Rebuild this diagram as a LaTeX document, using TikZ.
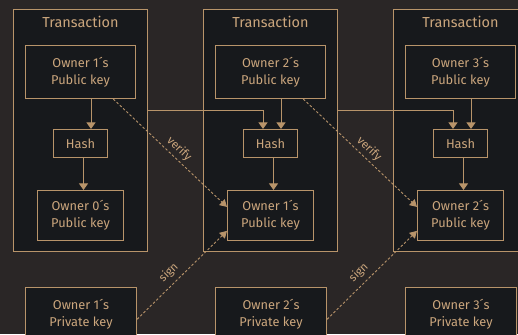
\documentclass[tikz,border=0pt]{standalone}
\usepackage{fontspec}
\setmainfont{Fira Sans}
\usetikzlibrary{arrows.meta}
\definecolor{bg}{HTML}{2A2626}
\definecolor{boxfill}{HTML}{17191C}
\definecolor{tan}{HTML}{B8946A}
\definecolor{txt}{HTML}{CBA67D}
\begin{document}
\begin{tikzpicture}[x=1pt,y=-1pt,
  frame/.style={draw=tan, fill=boxfill, line width=1.1pt, minimum width=134pt, minimum height=242pt, inner sep=0pt},
  title/.style={text=txt, font=\fontsize{14.5}{16}\selectfont, inner sep=0pt},
  pkbox/.style={draw=tan, fill=boxfill, line width=1.1pt, minimum width=110pt, minimum height=53pt, align=center, text=txt, font=\fontsize{12.8}{17}\selectfont, inner sep=0pt},
  lowbox/.style={pkbox, minimum width=86pt, minimum height=50pt},
  hashbox/.style={pkbox, minimum width=54pt, minimum height=28pt},
  privbox/.style={pkbox, minimum width=111pt},
  arr/.style={draw=tan, line width=1pt, -{Triangle[width=9pt,length=6.5pt]}},
  darr/.style={draw=tan, line width=0.9pt, dash pattern=on 2.5pt off 2pt, -{Triangle[width=8pt,length=7pt]}},
  lbl/.style={text=txt, font=\fontsize{11.5}{13}\selectfont, inner sep=2pt}
]
\useasboundingbox (0,0) rectangle (518,334);
\fill[bg] (0,0) rectangle (518,334);
\clip (0,0) rectangle (518,334);

\foreach \i/\a/\b in {0/1/0, 1/2/1, 2/3/2} {
  \node[frame] (fr\i) at ({80.5+190*\i},130.5) {};
  \node[title] (ti\i) at ({80.5+190*\i},21.5) {Transaction};
  \node[pkbox] (pk\i) at ({80.5+190*\i},72) {Owner \a´s\\Public key};
  \node[hashbox] (ha\i) at ({80.5+190*\i},143.5) {Hash};
  \node[lowbox] (lo\i) at ({80.5+190*\i},215.5) {Owner \b´s\\Public key};
  \node[privbox] (pr\i) at ({81+190*\i},314) {Owner \a´s\\Private key};
  \draw[arr] ([xshift=10.5pt]pk\i.south) -- ([xshift=10.5pt]ha\i.north);
  \draw[arr] ([xshift=3pt]ha\i.south) -- ([xshift=3pt]lo\i.north);
}

\draw[arr] (fr0.east |- 0,110.5) -| ([xshift=-7.5pt]ha1.north);
\draw[arr] (fr1.east |- 0,110.5) -| ([xshift=-7.5pt]ha2.north);

\draw[darr] ([xshift=32.8pt]pk0.south) -- node[lbl, sloped, above=1pt, pos=0.525] {verify} ([yshift=8.6pt]lo1.west);
\draw[darr] ([xshift=32.8pt]pk1.south) -- node[lbl, sloped, above=1pt, pos=0.525] {verify} ([yshift=8.6pt]lo2.west);

\draw[darr] ([yshift=-5.3pt]pr0.east) -- node[lbl, sloped, above=3pt, pos=0.44] {sign} ([yshift=-15.4pt]lo1.west);
\draw[darr] ([yshift=-5.3pt]pr1.east) -- node[lbl, sloped, above=3pt, pos=0.44] {sign} ([yshift=-15.4pt]lo2.west);
\end{tikzpicture}
\end{document}
